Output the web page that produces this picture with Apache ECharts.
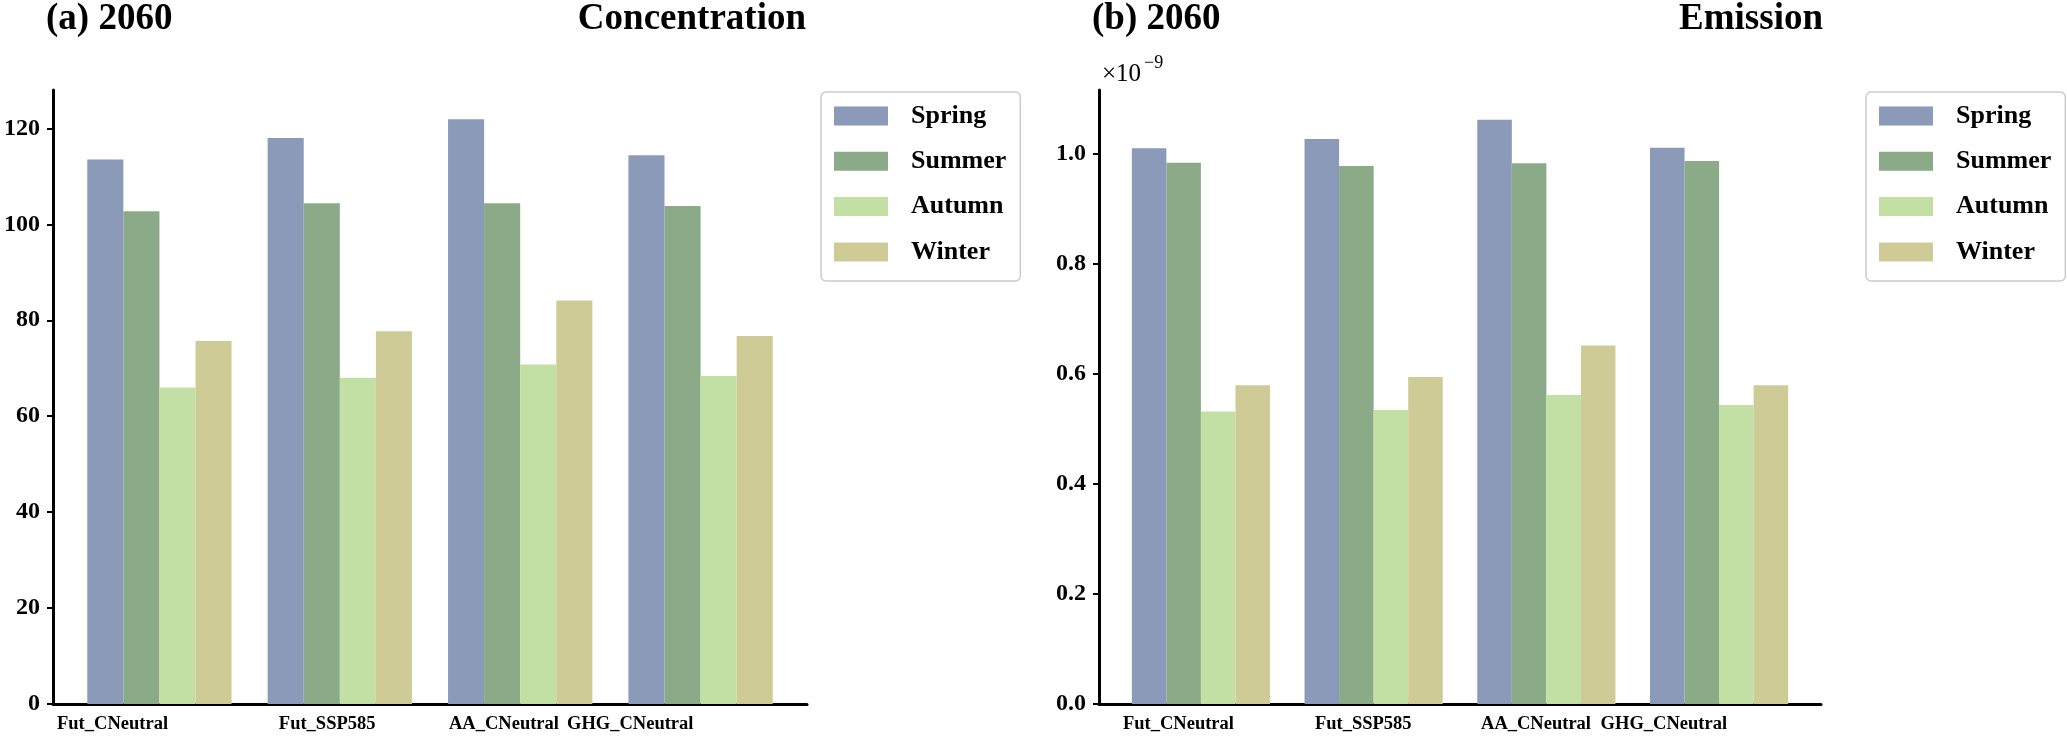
<!DOCTYPE html>
<html>
<head>
<meta charset="utf-8">
<script src="https://cdn.jsdelivr.net/npm/echarts@6/dist/echarts.min.js"></script>
<style>
html,body{margin:0;padding:0;background:#fff;}
#c{width:2067px;height:745px;}
</style>
</head>
<body>
<div id="c"></div>
<script>
const categories = ['Fut_CNeutral', 'Fut_SSP585', 'AA_CNeutral', 'GHG_CNeutral'];
const seasons = ['Spring', 'Summer', 'Autumn', 'Winter'];

// (a) Concentration
const concSpring = [113.5, 118.0, 121.9, 114.4];
const concSummer = [102.7, 104.4, 104.4, 103.8];
const concAutumn = [66.0, 68.0, 70.8, 68.4];
const concWinter = [75.7, 77.7, 84.1, 76.7];

// (b) Emission (x1e-9)
const emisSpring = [1.009, 1.026, 1.061, 1.010];
const emisSummer = [0.983, 0.977, 0.982, 0.986];
const emisAutumn = [0.531, 0.534, 0.561, 0.543];
const emisWinter = [0.579, 0.594, 0.651, 0.579];

// tick labels
const concTicks = [0, 20, 40, 60, 80, 100, 120];
const emisTicks = [0, 0.2, 0.4, 0.6, 0.8, 1.0];
// positions of the category labels along the x axis (group index units)
const concLabelPos = [-0.26, 0.93, 1.91, 2.61];
const emisLabelPos = [-0.13, 0.94, 1.94, 2.68];

const colors = ['#8a9ab8', '#8aaa88', '#c2dfa4', '#cfcb96'];
const FONT = "'Liberation Serif', 'Times New Roman', serif";

const concData = [concSpring, concSummer, concAutumn, concWinter];
const emisData = [emisSpring, emisSummer, emisAutumn, emisWinter];

function mkSeries(dataArr, idx) {
  return seasons.map((s, i) => ({
    name: s,
    type: 'bar',
    xAxisIndex: idx,
    yAxisIndex: idx,
    data: dataArr[i].map((v, k) => [k, v]),
    barGap: '0%',
    barCategoryGap: '20%',
    itemStyle: { color: colors[i] },
    emphasis: { disabled: true },
    animation: false
  }));
}

function mkX(idx, labelPos) {
  return {
    type: 'value',
    gridIndex: idx,
    min: -0.59,
    max: 3.59,
    axisLine: { show: true, onZero: false, lineStyle: { color: '#000', width: 3 } },
    axisTick: { show: false },
    axisLabel: {
      fontFamily: FONT, fontWeight: 'bold', fontSize: 18.5, color: '#000', margin: 11,
      customValues: labelPos,
      hideOverlap: false,
      showMinLabel: true, showMaxLabel: true,
      formatter: (v) => categories[labelPos.indexOf(v)] || ''
    },
    splitLine: { show: false }
  };
}

function mkY(idx, max, ticks, fmt) {
  return {
    type: 'value',
    gridIndex: idx,
    min: 0,
    max: max,
    axisLine: { show: true, onZero: false, lineStyle: { color: '#000', width: 3 } },
    axisTick: { show: true, length: 6, lineStyle: { color: '#000', width: 2 }, customValues: ticks },
    axisLabel: { fontFamily: FONT, fontWeight: 'bold', fontSize: 24, color: '#000', margin: 13, customValues: ticks, formatter: fmt },
    splitLine: { show: false }
  };
}

function mkLegend(left) {
  return {
    orient: 'vertical',
    left: left,
    top: 92,
    data: seasons,
    icon: 'rect',
    itemWidth: 54,
    itemHeight: 19,
    itemGap: 19.3,
    padding: [11, 14, 16, 13],
    borderColor: '#cccccc',
    borderWidth: 1.5,
    borderRadius: 5,
    backgroundColor: '#fff',
    selectedMode: false,
    textStyle: { fontFamily: FONT, fontWeight: 'bold', fontSize: 26, color: '#000', lineHeight: 19, padding: [0, 0, 0, 18] }
  };
}

const titleFont = "bold 37px " + FONT;
const chart = echarts.init(document.getElementById('c'));
chart.setOption({
  backgroundColor: '#fff',
  animation: false,
  grid: [
    { left: 53, top: 90, width: 754, height: 614 },
    { left: 1099, top: 90, width: 722, height: 614 }
  ],
  xAxis: [mkX(0, concLabelPos), mkX(1, emisLabelPos)],
  yAxis: [
    mkY(0, 128, concTicks, v => String(v)),
    mkY(1, 1.115, emisTicks, v => v.toFixed(1))
  ],
  legend: [mkLegend(821), mkLegend(1866)],
  series: mkSeries(concData, 0).concat(mkSeries(emisData, 1)),
  graphic: [
    { type: 'text', left: 46, top: 1, style: { text: '(a) 2060', font: titleFont, fill: '#000' } },
    { type: 'text', right: 2067 - 806, top: 1, style: { text: 'Concentration', font: titleFont, fill: '#000', textAlign: 'right' } },
    { type: 'text', left: 1092, top: 1, style: { text: '(b) 2060', font: titleFont, fill: '#000' } },
    { type: 'text', right: 2067 - 1823, top: 1, style: { text: 'Emission', font: titleFont, fill: '#000', textAlign: 'right' } },
    { type: 'text', left: 1102, top: 62, style: { text: '×10', font: "25px " + FONT, fill: '#000' } },
    { type: 'text', left: 1144, top: 54, style: { text: '−9', font: "18px " + FONT, fill: '#000' } }
  ]
});
</script>
</body>
</html>
